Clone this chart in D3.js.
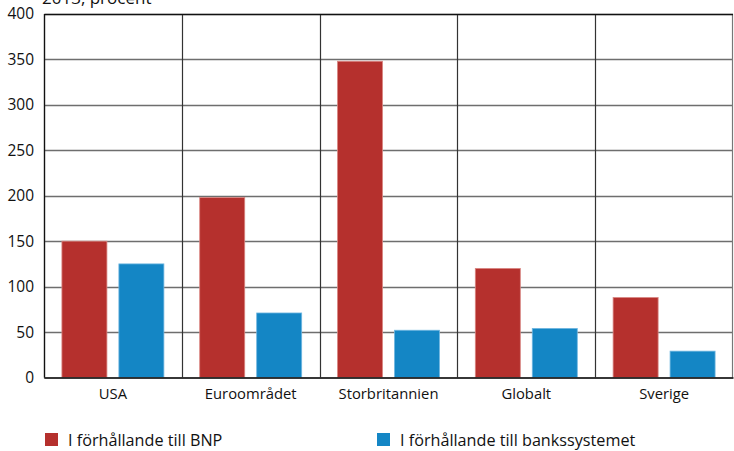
<!DOCTYPE html>
<html>
<head>
<meta charset="utf-8">
<script src="https://cdn.jsdelivr.net/npm/d3@7"></script>
<style>
  body { margin: 0; background: #fff; }
  svg { display: block; font-family: "Open Sans", "Noto Sans", sans-serif; }
</style>
</head>
<body>
<svg id="chart" width="734" height="451"></svg>
<script>
const categories = ["USA", "Euroområdet", "Storbritannien", "Globalt", "Sverige"];
const seriesNames = ["I förhållande till BNP", "I förhållande till bankssystemet"];
const gdpValues = [150, 198, 348, 120, 88];
const bankValues = [125, 71, 52, 54, 29];
const yTicks = [0, 50, 100, 150, 200, 250, 300, 350, 400];
const colors = ["#b5302d", "#1486c5"];
const strokeColors = ["#d98682", "#6fb6e0"];

const svg = d3.select("#chart");
const margin = { left: 44, top: 14, right: 1, bottom: 73 };
const W = 734, H = 451;
const x0 = margin.left, x1 = W - margin.right;
const yTop = margin.top, yBot = 377.5;

const x = d3.scaleBand().domain(categories).range([x0, x1]).paddingInner(0).paddingOuter(0);
const y = d3.scaleLinear().domain([0, 400]).range([yBot, yTop]);
const bw = x.bandwidth();
const inner = d3.scaleBand().domain([0, 1]).range([bw * 0.13, bw * 0.87]).paddingInner(0.21);

// title (partly above the frame)
svg.append("text").attr("x", 42).attr("y", 4).attr("font-size", 17).attr("fill", "#111")
  .text("2013, procent");

// horizontal gridlines
svg.append("g").selectAll("line").data(yTicks.slice(1, -1)).join("line")
  .attr("x1", x0).attr("x2", x1)
  .attr("y1", d => Math.round(y(d)) + 0.5).attr("y2", d => Math.round(y(d)) + 0.5)
  .attr("stroke", "#6e6e6e").attr("stroke-width", 1.3);

// vertical category separators
svg.append("g").selectAll("line").data(categories.slice(1)).join("line")
  .attr("x1", d => Math.round(x(d)) + 0.5).attr("x2", d => Math.round(x(d)) + 0.5)
  .attr("y1", yTop).attr("y2", yBot)
  .attr("stroke", "#333").attr("stroke-width", 1.2);

// bars
const series = [gdpValues, bankValues];
series.forEach((vals, si) => {
  svg.append("g").selectAll("rect").data(vals).join("rect")
    .attr("x", (d, i) => x(categories[i]) + inner(si))
    .attr("width", inner.bandwidth())
    .attr("y", d => y(d))
    .attr("height", d => yBot - y(d))
    .attr("fill", colors[si])
    .attr("stroke", strokeColors[si]).attr("stroke-width", 0.8);
});

// frame
svg.append("rect").attr("x", x0 + 0.5).attr("y", yTop + 0.5)
  .attr("width", x1 - x0 - 1).attr("height", yBot - yTop)
  .attr("fill", "none").attr("stroke", "#777").attr("stroke-width", 1.2);
svg.append("line").attr("x1", x0 + 0.5).attr("x2", x1).attr("y1", yTop + 0.5).attr("y2", yTop + 0.5)
  .attr("stroke", "#111").attr("stroke-width", 1.3);
svg.append("line").attr("x1", x0 + 0.5).attr("x2", x0 + 0.5).attr("y1", yTop).attr("y2", yBot)
  .attr("stroke", "#111").attr("stroke-width", 1.3);

// y axis
const yAxis = d3.axisLeft(y).tickValues(yTicks).tickSize(0).tickPadding(10);
const gy = svg.append("g").attr("transform", `translate(${x0},0)`).call(yAxis);
gy.select(".domain").remove();
gy.selectAll("text").attr("font-size", 15.5).attr("fill", "#111")
  .attr("font-family", "'Open Sans', 'Noto Sans', sans-serif");

// x axis
const xAxis = d3.axisBottom(x).tickSize(0).tickPadding(11);
const gx = svg.append("g").attr("transform", `translate(0,${yBot})`).call(xAxis);
gx.select(".domain").attr("stroke", "#111").attr("stroke-width", 1.6);
gx.selectAll("text").attr("font-size", 14.8).attr("fill", "#111")
  .attr("font-family", "'Open Sans', 'Noto Sans', sans-serif");

// legend
const legendX = [45, 377];
seriesNames.forEach((name, i) => {
  const g = svg.append("g").attr("transform", `translate(${legendX[i]},433)`);
  g.append("rect").attr("width", 13).attr("height", 13).attr("fill", colors[i]);
  g.append("text").attr("x", 23).attr("y", 13).attr("font-size", 16.2).attr("fill", "#111").text(name);
});
</script>
</body>
</html>
